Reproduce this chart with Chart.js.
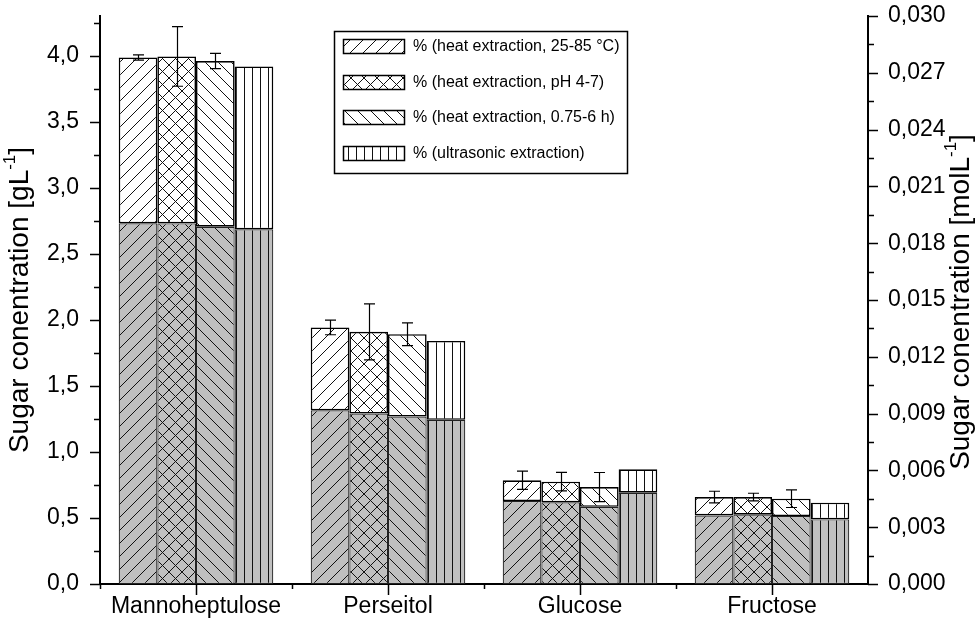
<!DOCTYPE html>
<html>
<head>
<meta charset="utf-8">
<script src="https://cdn.jsdelivr.net/npm/chart.js@4.4.1/dist/chart.umd.min.js"></script>
<style>
  html, body { margin: 0; padding: 0; background: #fff; }
  canvas { display: block; }
</style>
</head>
<body>
<canvas id="chart" width="980" height="624"></canvas>
<script>
// Sugar yields per extraction method (g/L); the grey part is the lower stacked share
const categories = ['Mannoheptulose', 'Perseitol', 'Glucose', 'Fructose'];
const methodLabels = [
  '% (heat extraction, 25-85 °C)',
  '% (heat extraction, pH 4-7)',
  '% (heat extraction, 0.75-6 h)',
  '% (ultrasonic extraction)'
];

const totalTemp  = [3.986, 1.942, 0.785, 0.658];
const baseTemp   = [2.731, 1.315, 0.628, 0.519];
const errTemp    = [0.020, 0.055, 0.069, 0.044];

const totalPH    = [3.994, 1.909, 0.775, 0.658];
const basePH     = [2.730, 1.290, 0.618, 0.525];
const errPH      = [0.226, 0.212, 0.070, 0.029];

const totalTime  = [3.959, 1.891, 0.734, 0.646];
const baseTime   = [2.705, 1.268, 0.585, 0.514];
const errTime    = [0.058, 0.086, 0.110, 0.067];

const totalUltra = [3.918, 1.840, 0.868, 0.616];
const baseUltra  = [2.685, 1.243, 0.691, 0.489];

// Axis ranges and labelled tick values
const leftMax = 4.3, leftStep = 0.25;
const leftLabelled = [0, 0.5, 1, 1.5, 2, 2.5, 3, 3.5, 4];
const rightMax = 0.030, rightStep = 0.0015;
const rightLabelled = [0, 0.003, 0.006, 0.009, 0.012, 0.015, 0.018, 0.021, 0.024, 0.027, 0.030];

const FONT = '"Liberation Sans", Arial, sans-serif';
const GREY = '#c0c0c0';

const canvas = document.getElementById('chart');
const ctx = canvas.getContext('2d');

function hatch(kind, bg) {
  const s = kind === 'vert' ? 8 : 13;
  const c = document.createElement('canvas');
  c.width = s; c.height = s;
  const g = c.getContext('2d');
  g.fillStyle = bg;
  g.fillRect(0, 0, s, s);
  g.strokeStyle = '#111';
  g.lineWidth = 1;
  g.beginPath();
  if (kind === 'fwd' || kind === 'cross') {
    g.moveTo(-1, s + 1); g.lineTo(s + 1, -1);
    g.moveTo(-1, 1); g.lineTo(1, -1);
    g.moveTo(s - 1, s + 1); g.lineTo(s + 1, s - 1);
  }
  if (kind === 'back' || kind === 'cross') {
    g.moveTo(-1, -1); g.lineTo(s + 1, s + 1);
    g.moveTo(s - 1, -1); g.lineTo(s + 1, 1);
    g.moveTo(-1, s - 1); g.lineTo(1, s + 1);
  }
  if (kind === 'vert') {
    g.moveTo(4.5, 0); g.lineTo(4.5, s);
  }
  g.stroke();
  return ctx.createPattern(c, 'repeat');
}

const kinds = ['fwd', 'cross', 'back', 'vert'];
const totals = [totalTemp, totalPH, totalTime, totalUltra];
const bases = [baseTemp, basePH, baseTime, baseUltra];
const errors = [errTemp, errPH, errTime, null];

const datasets = [];
kinds.forEach((k, i) => {
  datasets.push({
    label: methodLabels[i] + ' base',
    data: bases[i],
    stack: 'm' + i,
    backgroundColor: hatch(k, GREY),
    borderColor: '#222',
    borderWidth: 1.2,
    borderSkipped: false
  });
  datasets.push({
    label: methodLabels[i],
    data: totals[i].map((v, j) => v - bases[i][j]),
    stack: 'm' + i,
    backgroundColor: hatch(k, '#ffffff'),
    borderColor: '#000',
    borderWidth: 1.6,
    borderSkipped: false
  });
});
const legendPatterns = kinds.map(k => hatch(k, '#ffffff'));

const near = (a, b) => Math.abs(a - b) < 1e-7;

// error bars on top of each heat-extraction stack
const errorBars = {
  id: 'errorBars',
  afterDatasetsDraw(chart) {
    const y = chart.scales.y;
    const c = chart.ctx;
    c.save();
    c.strokeStyle = '#000';
    c.lineWidth = 1.2;
    errors.forEach((err, i) => {
      if (!err) return;
      const meta = chart.getDatasetMeta(i * 2 + 1);
      meta.data.forEach((bar, j) => {
        const x = Math.round(bar.x) + 0.5;
        const t = y.getPixelForValue(totals[i][j] + err[j]);
        const b = y.getPixelForValue(totals[i][j] - err[j]);
        c.beginPath();
        c.moveTo(x, t); c.lineTo(x, b);
        c.moveTo(x - 5.5, t); c.lineTo(x + 5.5, t);
        c.moveTo(x - 5.5, b); c.lineTo(x + 5.5, b);
        c.stroke();
      });
    });
    c.restore();
  }
};

// tick marks, axis titles and the in-plot legend
const decorations = {
  id: 'decorations',
  afterDraw(chart) {
    const c = chart.ctx;
    const area = chart.chartArea;
    const y = chart.scales.y, y2 = chart.scales.y2, x = chart.scales.x;
    c.save();
    c.strokeStyle = '#000';
    c.lineWidth = 1.5;
    c.beginPath();
    y.ticks.forEach(t => {
      const p = Math.round(y.getPixelForValue(t.value)) + 0.5;
      const major = leftLabelled.some(v => near(v, t.value));
      c.moveTo(area.left - (major ? 10 : 6), p); c.lineTo(area.left, p);
    });
    y2.ticks.forEach(t => {
      const p = Math.round(y2.getPixelForValue(t.value)) + 0.5;
      const major = rightLabelled.some(v => near(v, t.value));
      c.moveTo(area.right, p); c.lineTo(area.right + (major ? 10 : 6), p);
    });
    categories.forEach((cat, j) => {
      const p = Math.round(x.getPixelForValue(j)) + 0.5;
      c.moveTo(p, area.bottom); c.lineTo(p, area.bottom + 11);
      const half = (x.getPixelForValue(1) - x.getPixelForValue(0)) / 2;
      const q = Math.round(x.getPixelForValue(j) - half) + 0.5;
      c.moveTo(q, area.bottom); c.lineTo(q, area.bottom + 5);
    });
    c.stroke();

    // axis titles with superscript unit exponent
    function title(cx, cy, main, unit) {
      c.save();
      c.translate(cx, cy);
      c.rotate(-Math.PI / 2);
      c.fillStyle = '#000';
      c.textBaseline = 'middle';
      const big = '28px ' + FONT, small = '17px ' + FONT;
      c.font = big;
      const w1 = c.measureText(main + unit).width;
      c.font = small;
      const w2 = c.measureText('-1').width;
      c.font = big;
      const w3 = c.measureText(']').width;
      let px = -(w1 + w2 + w3) / 2;
      c.fillText(main + unit, px, 0);
      px += w1;
      c.font = small;
      c.fillText('-1', px, -10);
      px += w2;
      c.font = big;
      c.fillText(']', px, 0);
      c.restore();
    }
    title(20, 300, 'Sugar conentration [', 'gL');
    title(961, 302, 'Sugar conentration [', 'molL');

    // legend box
    const lx = 334, ly = 31, lw = 293, lh = 142;
    c.lineWidth = 1.5;
    c.strokeRect(lx + 0.5, ly + 0.5, lw, lh);
    c.font = '16px ' + FONT;
    c.textBaseline = 'middle';
    const rows = [46, 82, 117, 153];
    rows.forEach((ry, i) => {
      c.fillStyle = legendPatterns[i];
      c.fillRect(343, ry - 7, 61, 14);
      c.lineWidth = 1.5;
      c.strokeRect(343.5, ry - 7 + 0.5, 61, 14);
      c.fillStyle = '#000';
      c.fillText(methodLabels[i], 413, ry + 1);
    });
    c.restore();
  }
};

new Chart(ctx, {
  type: 'bar',
  data: { labels: categories, datasets },
  options: {
    responsive: false,
    animation: false,
    devicePixelRatio: 1,
    layout: { padding: { top: 16, left: 0, right: 0, bottom: 0 } },
    plugins: { legend: { display: false }, tooltip: { enabled: false } },
    datasets: { bar: { categoryPercentage: 0.805, barPercentage: 1.0 } },
    scales: {
      x: {
        stacked: true,
        grid: { display: false, drawTicks: false },
        border: { display: true, color: '#000', width: 2 },
        ticks: { color: '#000', font: { family: FONT, size: 23 }, padding: 9, maxRotation: 0 },
        afterFit(s) { s.height = 40; s.paddingLeft = 0; s.paddingRight = 0; }
      },
      y: {
        stacked: true,
        position: 'left',
        min: 0, max: leftMax,
        grid: { display: false, drawTicks: false },
        border: { display: true, color: '#000', width: 2 },
        ticks: {
          stepSize: leftStep, autoSkip: false, includeBounds: false,
          color: '#000', font: { family: FONT, size: 23 }, padding: 21,
          callback: v => leftLabelled.some(m => near(m, v)) ? v.toFixed(1).replace('.', ',') : ''
        },
        afterFit(s) { s.width = 100; s.paddingTop = 0; s.paddingBottom = 0; }
      },
      y2: {
        position: 'right',
        min: 0, max: rightMax,
        grid: { display: false, drawTicks: false },
        border: { display: true, color: '#000', width: 2 },
        ticks: {
          stepSize: rightStep, autoSkip: false, includeBounds: false,
          color: '#000', font: { family: FONT, size: 23 }, padding: 20,
          callback: v => rightLabelled.some(m => near(m, v)) ? v.toFixed(3).replace('.', ',') : ''
        },
        afterFit(s) { s.width = 112; s.paddingTop = 0; s.paddingBottom = 0; }
      }
    }
  },
  plugins: [errorBars, decorations]
});
</script>
</body>
</html>
